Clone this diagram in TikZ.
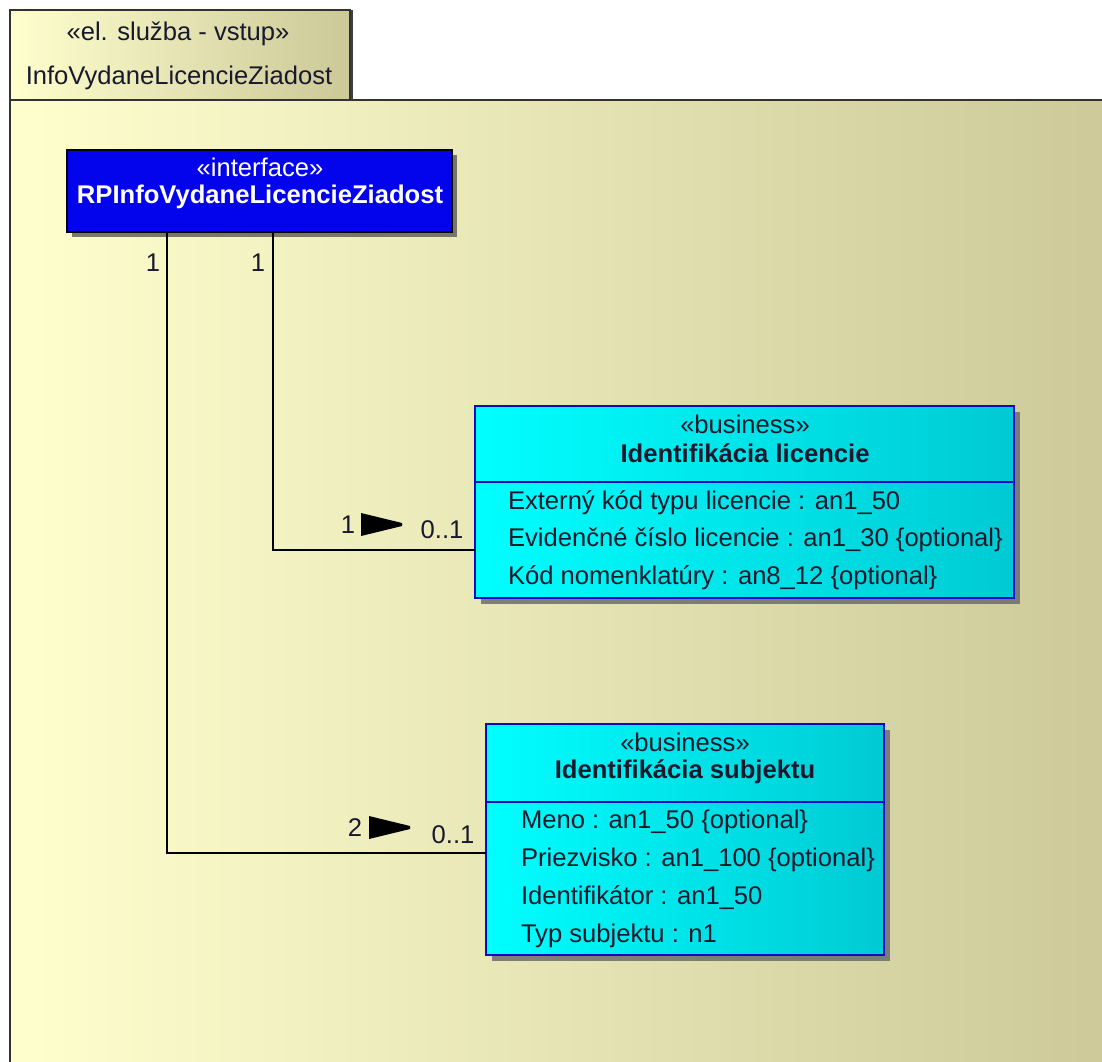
\documentclass[tikz,border=0pt]{standalone}
\usepackage{fontspec}
\setmainfont{Liberation Sans}
\usetikzlibrary{shadows}
\definecolor{pkgleft}{RGB}{255,255,206}
\definecolor{pkgright}{RGB}{204,200,152}
\definecolor{pkgline}{RGB}{50,50,50}
\definecolor{ifblue}{RGB}{4,4,236}
\definecolor{clsleft}{RGB}{0,255,255}
\definecolor{clsright}{RGB}{0,202,212}
\definecolor{clsline}{RGB}{10,10,200}
\definecolor{txtdark}{RGB}{25,25,45}

\begin{document}
\begin{tikzpicture}[x=0.5pt,y=-0.5pt,
    every node/.style={font=\fontsize{12.8}{15}\selectfont,inner sep=0pt,outer sep=0pt,text=txtdark},
    box/.style={anchor=north west,draw,line width=0.6pt},
    pkgbox/.style={box,draw=pkgline,left color=pkgleft,right color=pkgright},
    ifacebox/.style={box,draw=black,fill=ifblue,
        drop shadow={shadow xshift=2.5pt,shadow yshift=-2.5pt,fill=black!65,opacity=0.8}},
    classbox/.style={box,draw=clsline,left color=clsleft,right color=clsright,
        drop shadow={shadow xshift=3pt,shadow yshift=-3pt,fill=black!60,opacity=0.8}},
    clsname/.style={font=\fontsize{12.8}{15}\selectfont\bfseries},
    attr/.style={anchor=west},
    assoc/.style={line width=0.8pt,black}]

    \useasboundingbox (0,0) rectangle (1102,1061);

    % package with its tab
    \node[pkgbox,minimum width=560pt,minimum height=490pt] (pkg) at (10,100) {};
    \node[pkgbox,minimum width=170pt,minimum height=45pt,
        drop shadow={shadow xshift=1.6pt,shadow yshift=0pt,fill=black!75,opacity=1}] (tab) at (10,10) {};
    \node (tabst) at (178,34) {«el. služba - vstup»};
    \node (tabname) at (179,78) {InfoVydaneLicencieZiadost};

    % interface
    \node[ifacebox,minimum width=192.5pt,minimum height=41pt] (iface) at (67,150) {};
    \node[text=white] (ifst) at (260,167) {«interface»};
    \node[clsname,text=white] (ifname) at (260,197) {RPInfoVydaneLicencieZiadost};

    % Identifikacia licencie
    \node[classbox,minimum width=269.5pt,minimum height=96pt] (lic) at (475,406) {};
    \draw[clsline,line width=0.6pt] (lic.west |- 0,482) -- (lic.east |- 0,482);
    \node (licst) at (745,424) {«business»};
    \node[clsname] (licname) at (745,453) {Identifikácia licencie};
    \foreach \t [count=\i] in {Externý kód typu licencie : an1\_50,
        Evidenčné číslo licencie : an1\_30 \{optional\},
        Kód nomenklatúry : an8\_12 \{optional\}}{
      \node[attr] (lica\i) at (508,465+37.5*\i) {\t};
    }

    % Identifikacia subjektu
    \node[classbox,minimum width=199pt,minimum height=115.5pt] (subj) at (486,724) {};
    \draw[clsline,line width=0.6pt] (subj.west |- 0,802) -- (subj.east |- 0,802);
    \node (subjst) at (685,742) {«business»};
    \node[clsname] (subjname) at (685,772) {Identifikácia subjektu};
    \foreach \t [count=\i] in {Meno : an1\_50 \{optional\},
        Priezvisko : an1\_100 \{optional\},
        Identifikátor : an1\_50,
        Typ subjektu : n1}{
      \node[attr] (subja\i) at (521,784+38*\i) {\t};
    }

    % associations
    \draw[assoc] (iface.south -| 167,0) |- (subj.west |- 0,853);
    \draw[assoc] (iface.south -| 273,0) |- (lic.west |- 0,550);

    \node (m1) at (153,263) {1};
    \node (m2) at (258,263) {1};
    \node (licm1) at (348,525) {1};
    \node (licm2) at (442,530) {0..1};
    \node (subjm1) at (355,828) {2};
    \node (subjm2) at (453,835) {0..1};
    \fill (361,513) -- (402,523) -- (402,526) -- (361,536) -- cycle;% reading direction
    \fill (369,816) -- (410,826) -- (410,829) -- (369,839) -- cycle;

\end{tikzpicture}
\end{document}
